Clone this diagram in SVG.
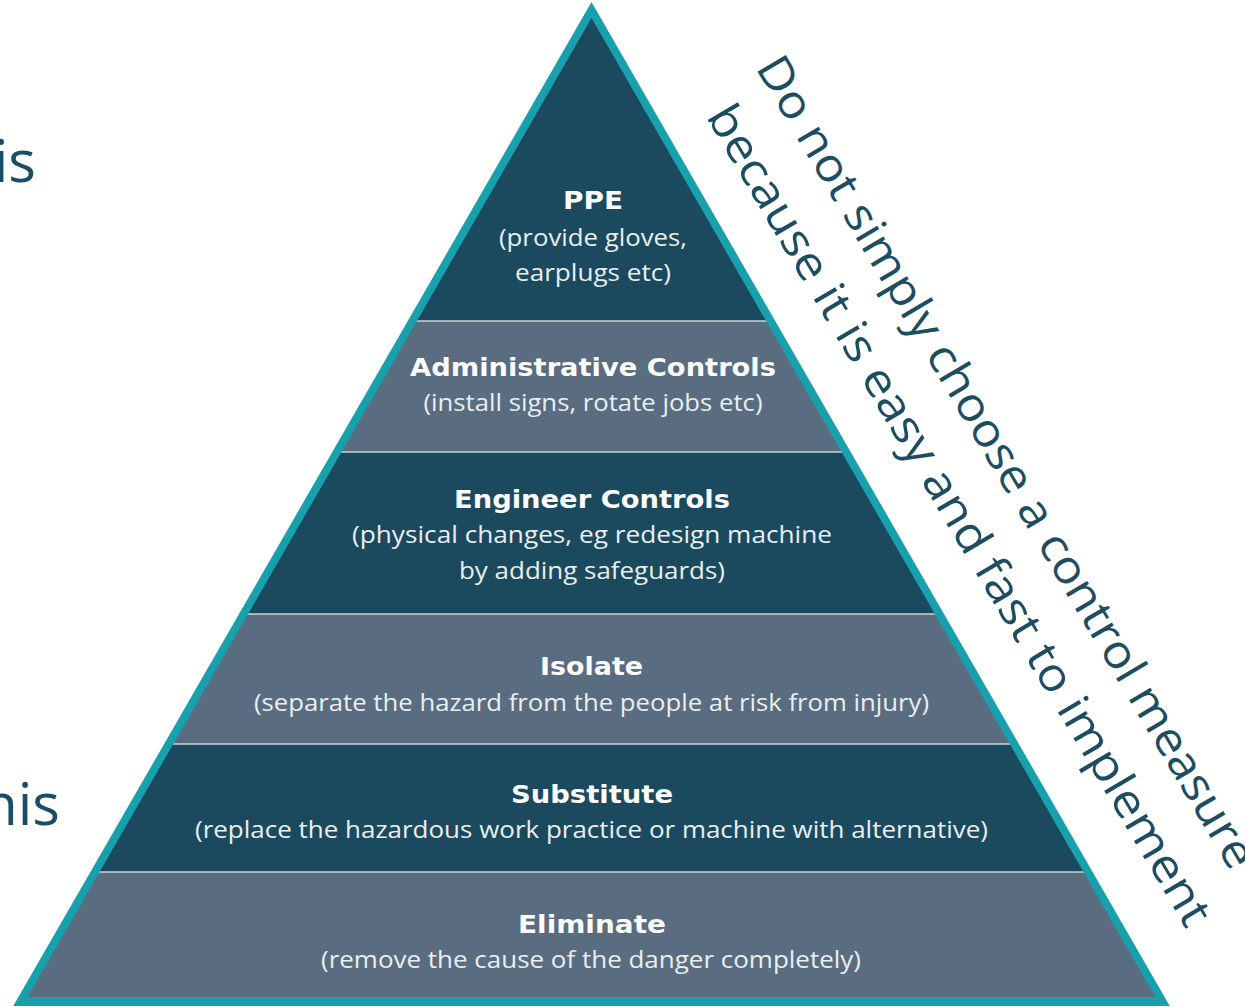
<svg xmlns="http://www.w3.org/2000/svg" width="1245" height="1007" viewBox="0 0 1245 1007">
  <style>
    .dark { fill: #1b4a5e; }
    .grey { fill: #5a6d80; }
    .divider { stroke: #c9d3da; stroke-width: 1.5; }
    .title { font-family: "DejaVu Sans", "Liberation Sans", sans-serif; font-weight: 700; font-size: 25px; fill: #fbfbfb; text-anchor: middle; }
    .sub { font-family: "Open Sans", "Liberation Sans", sans-serif; font-size: 23px; fill: #e9eef1; text-anchor: middle; }
    .side { font-family: "Open Sans", "Liberation Sans", sans-serif; font-size: 46px; fill: #1d4d61; text-anchor: middle; }
    .edge { font-family: "Open Sans", "Liberation Sans", sans-serif; font-size: 58px; fill: #1b4d68; text-anchor: end; }
  </style>
  <defs>
    <clipPath id="inner">
      <polygon points="591.5,18 1155.5,997 27.5,997"/>
    </clipPath>
  </defs>
  <rect width="1245" height="1007" fill="#ffffff"/>

  <!-- partial words at the left edge -->
  <text class="edge" x="36" y="182">is</text>
  <text class="edge" x="60" y="825">his</text>

  <!-- teal outline of the pyramid -->
  <polygon points="591.5,2 1169.8,1006 13.2,1006" fill="#18a0ac"/>

  <!-- pyramid bands -->
  <g clip-path="url(#inner)">
    <rect class="dark" x="0" y="0" width="1245" height="321"/>
    <rect class="grey" x="0" y="321" width="1245" height="131"/>
    <rect class="dark" x="0" y="452" width="1245" height="162"/>
    <rect class="grey" x="0" y="614" width="1245" height="130"/>
    <rect class="dark" x="0" y="744" width="1245" height="128"/>
    <rect class="grey" x="0" y="872" width="1245" height="130"/>
  </g>

  <!-- band dividers -->
  <g id="connectors" clip-path="url(#inner)">
    <line class="divider" x1="0" y1="321" x2="1245" y2="321"/>
    <line class="divider" x1="0" y1="452" x2="1245" y2="452"/>
    <line class="divider" x1="0" y1="614" x2="1245" y2="614"/>
    <line class="divider" x1="0" y1="744" x2="1245" y2="744"/>
    <line class="divider" x1="0" y1="872" x2="1245" y2="872"/>
  </g>

  <g id="ppe">
    <text class="title" x="593" y="209" textLength="60" lengthAdjust="spacingAndGlyphs">PPE</text>
    <text class="sub" x="593" y="246" textLength="188" lengthAdjust="spacingAndGlyphs">(provide gloves,</text>
    <text class="sub" x="593" y="281" textLength="156" lengthAdjust="spacingAndGlyphs">earplugs etc)</text>
  </g>
  <g id="administrative">
    <text class="title" x="593" y="376" textLength="366" lengthAdjust="spacingAndGlyphs">Administrative Controls</text>
    <text class="sub" x="593" y="411" textLength="339" lengthAdjust="spacingAndGlyphs">(install signs, rotate jobs etc)</text>
  </g>
  <g id="engineer">
    <text class="title" x="592" y="508" textLength="276" lengthAdjust="spacingAndGlyphs">Engineer Controls</text>
    <text class="sub" x="592" y="543" textLength="480" lengthAdjust="spacingAndGlyphs">(physical changes, eg redesign machine</text>
    <text class="sub" x="592" y="579" textLength="266" lengthAdjust="spacingAndGlyphs">by adding safeguards)</text>
  </g>
  <g id="isolate">
    <text class="title" x="591.5" y="675" textLength="103" lengthAdjust="spacingAndGlyphs">Isolate</text>
    <text class="sub" x="591.5" y="711" textLength="675" lengthAdjust="spacingAndGlyphs">(separate the hazard from the people at risk from injury)</text>
  </g>
  <g id="substitute">
    <text class="title" x="592" y="803" textLength="162" lengthAdjust="spacingAndGlyphs">Substitute</text>
    <text class="sub" x="591.5" y="838" textLength="793" lengthAdjust="spacingAndGlyphs">(replace the hazardous work practice or machine with alternative)</text>
  </g>
  <g id="eliminate">
    <text class="title" x="592" y="933" textLength="148" lengthAdjust="spacingAndGlyphs">Eliminate</text>
    <text class="sub" x="591" y="968" textLength="540" lengthAdjust="spacingAndGlyphs">(remove the cause of the danger completely)</text>
  </g>

  <!-- slanted note along the right side -->
  <g id="note">
    <text class="side" transform="translate(993,470) rotate(59.4)" x="0" y="0" textLength="935" lengthAdjust="spacingAndGlyphs">Do not simply choose a control measure</text>
    <text class="side" transform="translate(946,523) rotate(59.4)" x="0" y="0" textLength="945" lengthAdjust="spacingAndGlyphs">because it is easy and fast to implement</text>
  </g>
</svg>
